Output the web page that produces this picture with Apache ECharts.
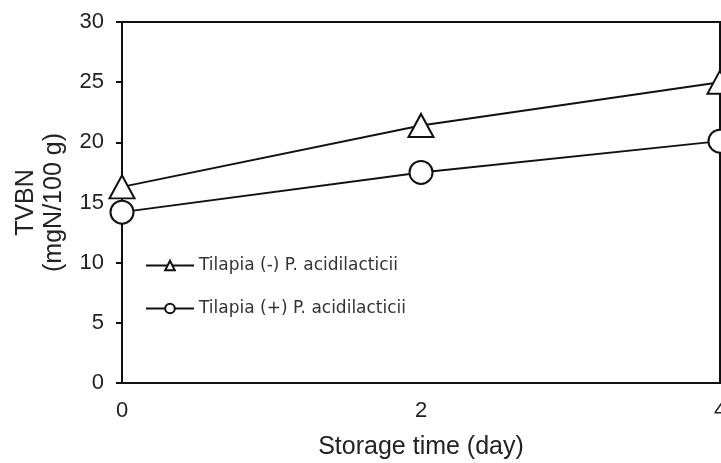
<!DOCTYPE html>
<html>
<head>
<meta charset="utf-8">
<script src="https://cdn.jsdelivr.net/npm/echarts@6/dist/echarts.min.js"></script>
<style>
  html, body { margin: 0; padding: 0; background: #fff; }
  #chart { width: 721px; height: 463px; }
</style>
</head>
<body>
<div id="chart"></div>
<script>
// storage days
var days = [0, 2, 4]
// TVBN (mgN/100 g)
var tilapiaMinus = [16.3, 21.4, 25.0]
var tilapiaPlus = [14.2, 17.5, 20.1]
var seriesNames = ['Tilapia (-) P. acidilacticii', 'Tilapia (+) P. acidilacticii']

var chart = echarts.init(document.getElementById('chart'))

function pairs(ys) {
  return days.map(function (d, i) { return [d, ys[i]] })
}

var txt = '#222'

chart.setOption({
  animation: false,
  grid: {
    left: 122,
    right: 1,
    top: 22,
    bottom: 80,
    outerBoundsMode: 'none',
    containLabel: false,
    show: true,
    borderColor: '#111',
    borderWidth: 2,
  },
  legend: {
    orient: 'vertical',
    left: 140,
    top: 252,
    itemWidth: 48,
    itemHeight: 12,
    itemGap: 26,
    textStyle: {
      fontFamily: 'DejaVu Sans',
      fontSize: 17,
      color: '#333',
    },
    data: seriesNames,
  },
  xAxis: {
    type: 'value',
    min: 0,
    max: 4,
    interval: 2,
    name: 'Storage time (day)',
    nameLocation: 'middle',
    nameGap: 52,
    nameTextStyle: { fontFamily: 'Liberation Sans', fontSize: 25, color: txt },
    axisLine: { lineStyle: { color: '#111', width: 2 } },
    axisTick: { show: false },
    splitLine: { show: false },
    axisLabel: { fontFamily: 'Liberation Sans', fontSize: 22, color: txt, margin: 17 },
  },
  yAxis: {
    type: 'value',
    min: 0,
    max: 30,
    interval: 5,
    name: 'TVBN\n(mgN/100 g)',
    nameLocation: 'middle',
    nameRotate: 90,
    nameGap: 54,
    nameTextStyle: { fontFamily: 'Liberation Sans', fontSize: 25, color: txt, lineHeight: 28 },
    axisLine: { show: true, lineStyle: { color: '#111', width: 2 } },
    axisTick: { show: true, inside: false, length: 6, lineStyle: { color: '#111', width: 2 } },
    splitLine: { show: false },
    axisLabel: { fontFamily: 'Liberation Sans', fontSize: 22, color: txt, margin: 18 },
  },
  series: [
    {
      name: seriesNames[0],
      type: 'line',
      data: pairs(tilapiaMinus),
      symbol: 'triangle',
      symbolSize: [25, 23],
      lineStyle: { color: '#111', width: 2 },
      itemStyle: { color: '#fff', borderColor: '#111', borderWidth: 2 },
      z: 3,
    },
    {
      name: seriesNames[1],
      type: 'line',
      data: pairs(tilapiaPlus),
      symbol: 'circle',
      symbolSize: 23,
      lineStyle: { color: '#111', width: 2 },
      itemStyle: { color: '#fff', borderColor: '#111', borderWidth: 2 },
      z: 3,
    },
  ],
})
</script>
</body>
</html>
